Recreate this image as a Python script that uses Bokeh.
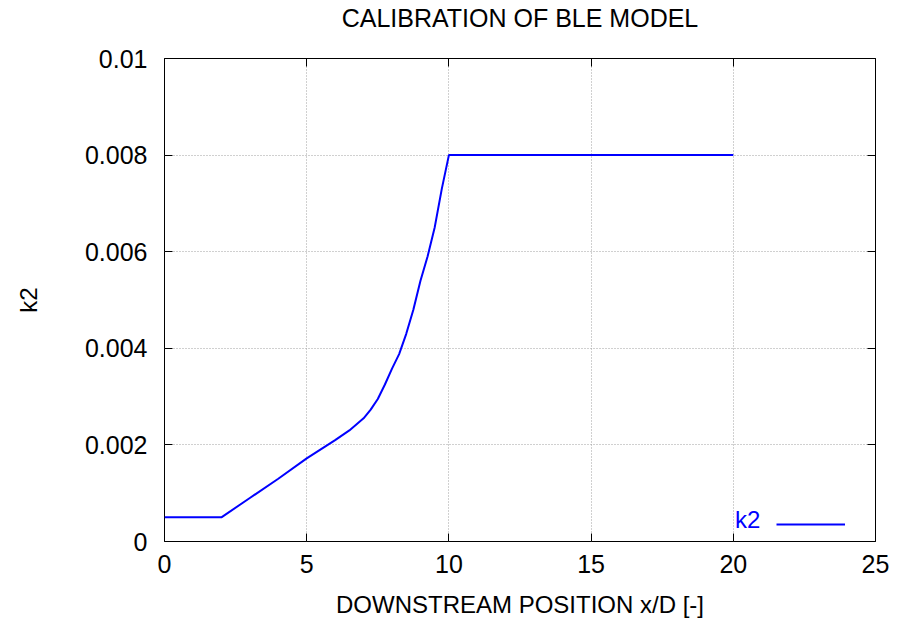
from bokeh.plotting import figure
from bokeh.models import FixedTicker, LinearAxis, Range1d, Legend, LegendItem
from bokeh.embed import file_html
from bokeh.resources import INLINE

# data
x_pos = [0, 2, 3, 4, 5, 6, 6.5, 7, 7.25, 7.5, 7.75, 8, 8.25, 8.5, 8.75, 9, 9.25, 9.5, 9.75, 10, 20]
k2 = [0.0005, 0.0005, 0.0009, 0.0013, 0.00172, 0.0021, 0.0023, 0.00255, 0.00273, 0.00295,
      0.00325, 0.00358, 0.00388, 0.0043, 0.0048, 0.0054, 0.0059, 0.0065, 0.0073, 0.008, 0.008]
x_ticks = [0, 5, 10, 15, 20, 25]
y_ticks = [0, 0.002, 0.004, 0.006, 0.008, 0.01]
y_tick_labels = ["0", "0.002", "0.004", "0.006", "0.008", "0.01"]

FONT = "Liberation Sans"
FS = "24px"
FS_TICK = "25px"

p = figure(width=900, height=620, output_backend="svg", toolbar_location=None,
           x_range=Range1d(0, 25), y_range=Range1d(0, 0.01),
           min_border_left=164, min_border_right=25, min_border_top=58, min_border_bottom=77,
           title="CALIBRATION OF BLE MODEL")
p.title.align = "center"
p.title.vertical_align = "bottom"
p.title.text_font = FONT
p.title.text_font_size = "25px"
p.title.text_font_style = "normal"
p.title.text_color = "black"
p.title.standoff = 0

p.outline_line_color = "black"
p.outline_line_width = 1
p.background_fill_color = "white"
p.border_fill_color = "white"

for ax in (p.xaxis[0], p.yaxis[0]):
    ax.axis_line_color = None
    ax.major_tick_in = 8
    ax.major_tick_out = 0
    ax.minor_tick_line_color = None
    ax.major_tick_line_color = "black"
    ax.major_label_text_font = FONT
    ax.major_label_text_font_size = FS_TICK
    ax.major_label_text_color = "black"
    ax.axis_label_text_font = FONT
    ax.axis_label_text_font_size = FS
    ax.axis_label_text_font_style = "normal"
    ax.axis_label_text_color = "black"

p.xaxis[0].ticker = FixedTicker(ticks=x_ticks)
p.yaxis[0].ticker = FixedTicker(ticks=y_ticks)
p.yaxis[0].major_label_overrides = {t: l for t, l in zip(y_ticks, y_tick_labels)}
p.xaxis[0].axis_label = "DOWNSTREAM POSITION x/D [-]"
p.yaxis[0].axis_label = "k2"
p.xaxis[0].major_label_standoff = 13
p.yaxis[0].major_label_standoff = 17
p.xaxis[0].axis_label_standoff = 15
p.yaxis[0].axis_label_standoff = 40

# mirrored ticks on top and right (no labels)
top = LinearAxis(ticker=FixedTicker(ticks=x_ticks),
                 major_label_overrides={t: "" for t in x_ticks},
                 axis_line_color=None, major_tick_in=8, major_tick_out=0,
                 minor_tick_line_color=None, major_label_standoff=0)
# invisible spacer between frame and title
top_space = LinearAxis(ticker=FixedTicker(ticks=x_ticks),
                       major_label_overrides={t: "" for t in x_ticks},
                       axis_line_color=None, major_tick_in=0, major_tick_out=27,
                       major_tick_line_color=None,
                       minor_tick_line_color=None, major_label_standoff=0)
right = LinearAxis(ticker=FixedTicker(ticks=y_ticks),
                   major_label_overrides={t: "" for t in y_ticks},
                   axis_line_color=None, major_tick_in=8, major_tick_out=0,
                   minor_tick_line_color=None, major_label_standoff=0)
p.add_layout(top, "above")
p.add_layout(top_space, "above")
p.add_layout(right, "right")

p.xgrid.ticker = FixedTicker(ticks=x_ticks)
p.ygrid.ticker = FixedTicker(ticks=y_ticks)
for g in (p.xgrid[0], p.ygrid[0]):
    g.grid_line_color = "#a0a0a0"
    g.grid_line_dash = "1 2"
    g.grid_line_width = 1

r = p.line(x_pos, k2, line_color="#0000ff", line_width=2)

# gnuplot-style key: label first, then the line sample
key_label = Legend(items=[LegendItem(label="k2", renderers=[r])],
                   location=(571, 7), glyph_width=0, label_standoff=0,
                   padding=0, margin=0, background_fill_alpha=0, border_line_color=None,
                   label_text_font=FONT, label_text_font_size=FS, label_text_color="#0000ff")
key_line = Legend(items=[LegendItem(label="", renderers=[r])],
                  location=(612, 7), glyph_width=69, label_standoff=0,
                  padding=0, margin=0, background_fill_alpha=0, border_line_color=None,
                  label_text_font=FONT, label_text_font_size=FS)
p.add_layout(key_label, "center")
p.add_layout(key_line, "center")

open("out.html", "w").write(file_html(p, INLINE))
